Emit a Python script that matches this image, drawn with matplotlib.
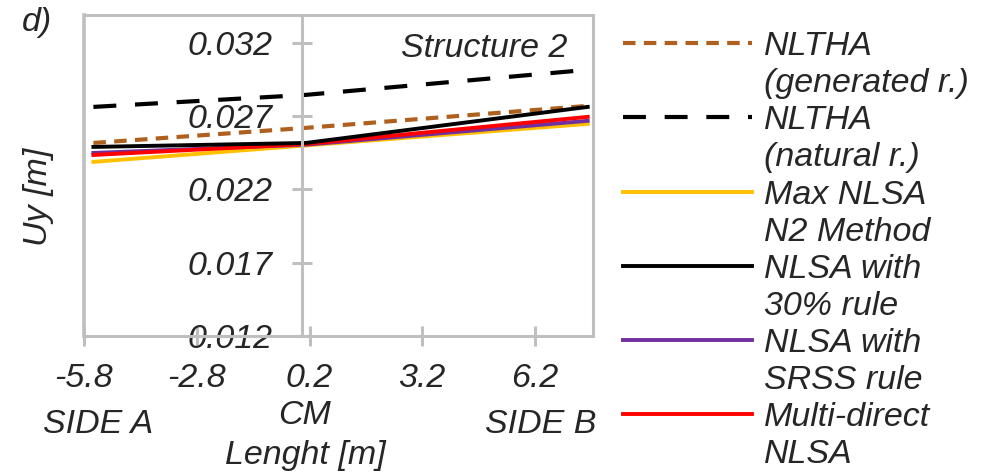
import matplotlib
matplotlib.use("Agg")
import matplotlib.pyplot as plt
from matplotlib.lines import Line2D

plt.rcParams['font.family'] = ['Liberation Sans', 'DejaVu Sans']
plt.rcParams['font.style'] = 'italic'

# positions along the plan: side A, centre of mass, side B
x_pos = [-5.55, 0.1, 7.6]

nltha_generated = [0.02517, 0.02620, 0.02770]
nltha_natural = [0.02763, 0.02845, 0.03016]
max_nlsa_n2 = [0.02388, 0.02500, 0.02647]
nlsa_30 = [0.02490, 0.02517, 0.02763]
nlsa_srss = [0.02449, 0.02505, 0.02668]
multi_direct = [0.02435, 0.02510, 0.02695]

x_ticks = [-5.8, -2.8, 0.2, 3.2, 6.2]
y_ticks = [0.012, 0.017, 0.022, 0.027, 0.032]
x_lim = (-5.8, 7.74)
y_lim = (0.012, 0.0339)

grey = '#BFBFBF'
txt = '#262626'
fs = 24.5

fig = plt.figure(figsize=(9.86, 4.73), dpi=100)
ax = fig.add_axes([0.0852, 0.2896, 0.6014 - 0.0852, 0.9683 - 0.2896])

l1, = ax.plot(x_pos, nltha_generated, color='#B0601E', lw=3, ls=(0, (3, 2)))
l2, = ax.plot(x_pos, nltha_natural, color='black', lw=3, ls=(0, (5.5, 4.5)))
l3, = ax.plot(x_pos, max_nlsa_n2, color='#FFC000', lw=2.8)
l5, = ax.plot(x_pos, nlsa_srss, color='#7030A0', lw=2.8)
l6, = ax.plot(x_pos, multi_direct, color='#FF0000', lw=2.8)
l4, = ax.plot(x_pos, nlsa_30, color='black', lw=2.8)

ax.set_xlim(*x_lim)
ax.set_ylim(*y_lim)

for s in ['top', 'right', 'bottom', 'left']:
    ax.spines[s].set_color(grey)
    ax.spines[s].set_linewidth(2.2)
ax.spines['left'].set_position(('data', 0))
ax.axvline(x_lim[0], color=grey, lw=2.6, clip_on=False, zorder=0.5)

ax.set_xticks(x_ticks)
ax.set_xticklabels([f'{v:.1f}' for v in x_ticks])
ax.set_yticks(y_ticks)
ax.set_yticklabels([f'{v:.3f}' for v in y_ticks])
ax.tick_params(axis='both', direction='inout', length=15, width=2.2, color=grey,
               labelsize=fs, labelcolor=txt)
ax.tick_params(axis='x', pad=12)
ax.tick_params(axis='y', pad=14)

ax.text(0.95, 0.895, 'Structure 2', transform=ax.transAxes, ha='right', va='center',
        fontsize=fs, color=txt)

fig.text(98 / 986, 1 - 424 / 473, 'SIDE A', ha='center', va='center', fontsize=fs, color=txt)
fig.text(305 / 986, 1 - 415 / 473, 'CM', ha='center', va='center', fontsize=fs, color=txt)
fig.text(541 / 986, 1 - 424 / 473, 'SIDE B', ha='center', va='center', fontsize=fs, color=txt)
fig.text(305 / 986, 1 - 455 / 473, 'Lenght [m]', ha='center', va='center', fontsize=fs, color=txt)
fig.text(38 / 986, 1 - 197 / 473, 'Uy [m]', ha='center', va='center', rotation=90,
         fontsize=fs, color=txt)
fig.text(22 / 986, 1 - 22 / 473, 'd)', ha='left', va='center', fontsize=fs, color=txt)

blank = Line2D([], [], color='none')
handles = [l1, blank, l2, blank, l3, blank, l4, blank, l5, blank, l6, blank]
labels = ['NLTHA', '(generated r.)', 'NLTHA', '(natural r.)', 'Max NLSA', 'N2 Method',
          'NLSA with', '30% rule', 'NLSA with', 'SRSS rule', 'Multi-direct', 'NLSA']
leg = fig.legend(handles, labels, loc='upper left', bbox_to_anchor=(623 / 986, 1 - 31 / 473),
                 frameon=False, fontsize=fs, handlelength=3.8, handletextpad=0.35,
                 labelspacing=0.18, borderaxespad=0, borderpad=0)
for t in leg.get_texts():
    t.set_color(txt)

fig.savefig('out.png', dpi=100)
